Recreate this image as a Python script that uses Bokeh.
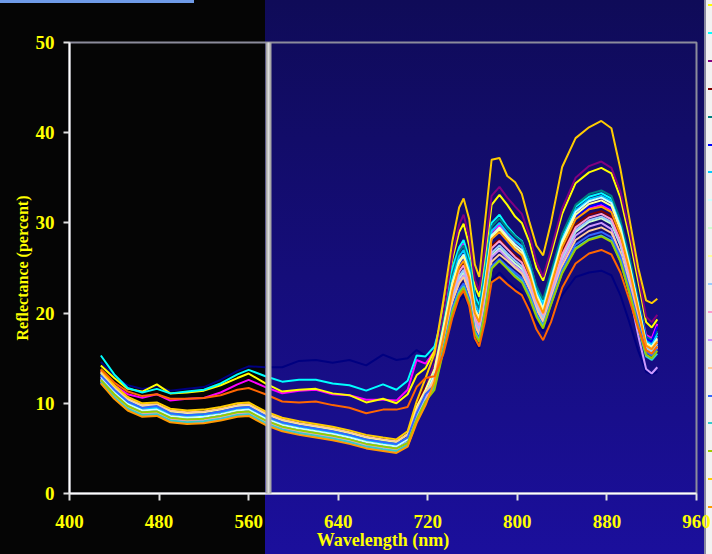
from bokeh.plotting import figure
from bokeh.models import FixedTicker, BoxAnnotation, Range1d
from bokeh.embed import file_html
from bokeh.resources import INLINE

# wavelengths (nm) shared by every spectrum
wavelengths = [428, 440, 452, 465, 478, 490, 505, 520, 535, 550, 560, 575, 590, 605, 620,
               635, 650, 665, 680, 692, 702, 710, 718,
               726, 734, 742, 748, 752, 757, 762, 766, 771, 777, 784, 791, 798, 804, 811,
               817, 823, 830, 840, 852, 864, 875, 884, 892, 900, 908, 915, 920, 925]

x_ticks = [400, 480, 560, 640, 720, 800, 880, 960]
y_ticks = [0, 10, 20, 30, 40, 50]

series_colors = ["#000080", "#FF00FF", "#FFFF00", "#00FFFF", "#800080", "#800000",
                 "#008080", "#0000FF", "#00CCFF", "#CCFFFF", "#CCFFCC", "#FFFF99",
                 "#99CCFF", "#FF99CC", "#CC99FF", "#FFCC99", "#3366FF", "#33CCCC",
                 "#99CC00", "#FFCC00", "#FF9900", "#FF6600"]

s01 = [14.6, 13.0, 12.0, 11.6, 11.9, 11.4, 11.6, 11.8, 12.6, 13.6, 14.1, 14.0, 14.0, 14.7, 14.8,
       14.5, 14.8, 14.2, 15.4, 14.8, 15.0, 15.9, 15.3,
       14.5, 16.0, 19.5, 21.3, 22.0, 20.6, 17.0, 16.0, 19.2, 23.6, 24.5, 23.6, 22.8, 22.3, 20.6,
       19.0, 18.0, 19.4, 22.0, 24.0, 24.5, 24.7, 24.2, 22.0, 19.0, 15.8, 13.5, 13.2, 13.5]
s02 = [13.6, 12.0, 11.0, 10.6, 11.0, 10.3, 10.5, 10.6, 11.2, 12.1, 12.6, 11.8, 11.1, 11.4, 11.5,
       11.0, 10.9, 10.4, 10.4, 10.3, 11.5, 14.8, 14.4,
       15.8, 19.5, 24.5, 26.9, 27.7, 25.6, 21.6, 20.5, 24.0, 29.0, 29.8, 28.8, 28.0, 27.4, 25.3,
       22.7, 21.0, 23.6, 27.6, 30.6, 31.6, 32.0, 31.4, 29.0, 25.5, 21.2, 17.6, 17.2, 18.8]
s03 = [14.2, 12.8, 11.6, 11.3, 12.1, 11.1, 11.2, 11.4, 12.0, 12.8, 13.3, 12.2, 11.3, 11.5, 11.6,
       11.1, 10.9, 10.1, 10.5, 10.0, 11.0, 13.1, 13.9,
       15.8, 20.5, 26.0, 29.0, 29.9, 27.5, 23.0, 21.8, 26.0, 32.0, 33.1, 32.0, 30.7, 30.0, 27.8,
       25.0, 23.6, 26.5, 31.0, 34.4, 35.6, 36.1, 35.5, 32.8, 28.5, 23.5, 19.0, 18.4, 19.3]
s04 = [15.3, 13.2, 11.7, 11.2, 11.6, 11.1, 11.3, 11.5, 12.2, 13.2, 13.7, 13.0, 12.4, 12.6, 12.6,
       12.2, 12.0, 11.4, 12.1, 11.5, 12.5, 15.3, 15.2,
       16.3, 20.0, 25.0, 27.3, 28.1, 26.0, 22.0, 20.8, 24.8, 30.0, 30.9, 29.6, 28.6, 28.0, 25.6,
       22.8, 21.2, 24.0, 28.5, 31.8, 32.9, 33.3, 32.7, 30.0, 26.0, 21.0, 17.2, 16.8, 17.8]
s05 = [13.2, 11.5, 10.2, 9.5, 9.6, 8.9, 8.7, 8.8, 9.1, 9.5, 9.6, 8.6, 7.9, 7.5, 7.2,
       6.9, 6.5, 6.0, 5.7, 5.5, 6.4, 9.4, 11.6,
       14.5, 20.0, 26.5, 29.8, 30.9, 28.4, 23.7, 22.5, 27.0, 33.0, 34.0, 32.8, 31.8, 31.0, 28.6,
       25.7, 24.0, 27.0, 31.6, 35.0, 36.3, 36.8, 36.1, 33.5, 29.2, 24.2, 19.6, 19.0, 19.8]
s06 = [13.0, 11.3, 10.0, 9.3, 9.4, 8.7, 8.5, 8.6, 8.9, 9.3, 9.4, 8.4, 7.7, 7.3, 7.0,
       6.7, 6.3, 5.8, 5.5, 5.3, 6.3, 10.0, 11.8,
       13.5, 17.8, 22.5, 24.8, 25.5, 23.6, 19.8, 18.8, 22.3, 27.4, 28.2, 27.2, 26.4, 25.8, 23.8,
       21.4, 20.0, 22.8, 26.8, 29.8, 30.9, 31.3, 30.7, 28.3, 24.8, 20.4, 16.7, 16.3, 17.3]
s07 = [13.3, 11.6, 10.3, 9.6, 9.7, 9.0, 8.8, 8.9, 9.2, 9.6, 9.7, 8.7, 8.0, 7.6, 7.3,
       7.0, 6.6, 6.1, 5.8, 5.6, 6.2, 9.0, 11.4,
       13.8, 19.0, 24.3, 26.8, 27.5, 25.5, 21.5, 20.5, 24.3, 29.6, 30.5, 29.4, 28.5, 27.9, 25.7,
       23.0, 21.5, 24.5, 28.8, 32.0, 33.2, 33.6, 33.0, 30.3, 26.3, 21.5, 17.4, 17.0, 18.0]
s08 = [12.8, 11.1, 9.8, 9.1, 9.2, 8.5, 8.3, 8.4, 8.7, 9.1, 9.2, 8.2, 7.5, 7.1, 6.8,
       6.5, 6.1, 5.6, 5.3, 5.1, 5.8, 8.5, 10.6,
       13.0, 17.8, 22.8, 25.3, 26.0, 24.1, 20.2, 19.2, 22.8, 28.2, 29.0, 27.9, 27.0, 26.4, 24.2,
       21.7, 20.2, 23.2, 27.4, 30.6, 31.8, 32.2, 31.6, 29.1, 25.3, 20.9, 17.2, 16.8, 18.5]
s09 = [13.1, 11.4, 10.1, 9.4, 9.5, 8.8, 8.6, 8.7, 9.0, 9.4, 9.5, 8.5, 7.8, 7.4, 7.1,
       6.8, 6.4, 5.9, 5.6, 5.4, 6.1, 8.9, 11.0,
       13.6, 18.6, 23.8, 26.3, 27.0, 25.0, 21.0, 20.0, 23.8, 29.1, 30.0, 28.9, 28.0, 27.4, 25.1,
       22.4, 20.8, 23.9, 28.2, 31.4, 32.6, 33.0, 32.4, 29.7, 25.6, 21.0, 16.9, 16.5, 17.5]
s10 = [12.9, 11.2, 9.9, 9.2, 9.3, 8.6, 8.4, 8.5, 8.8, 9.2, 9.3, 8.3, 7.6, 7.2, 6.9,
       6.6, 6.2, 5.7, 5.4, 5.2, 6.0, 8.8, 10.8,
       13.2, 18.2, 23.3, 25.8, 26.5, 24.5, 20.5, 19.5, 23.3, 28.6, 29.5, 28.5, 27.6, 27.0, 24.8,
       22.1, 20.5, 23.6, 28.0, 31.2, 32.4, 32.8, 32.2, 29.5, 25.4, 20.8, 16.7, 16.3, 17.2]
s11 = [12.6, 10.9, 9.6, 8.9, 9.0, 8.3, 8.1, 8.2, 8.5, 8.9, 9.0, 8.0, 7.3, 6.9, 6.6,
       6.3, 5.9, 5.4, 5.1, 4.9, 5.6, 8.3, 10.4,
       12.3, 16.8, 21.6, 23.8, 24.5, 22.7, 19.0, 18.0, 21.4, 26.4, 27.2, 26.3, 25.5, 24.9, 23.0,
       20.8, 19.3, 22.0, 26.0, 29.0, 30.1, 30.5, 29.9, 27.5, 23.8, 19.6, 16.0, 15.6, 16.4]
s12 = [13.4, 11.7, 10.4, 9.7, 9.8, 9.1, 8.9, 9.0, 9.3, 9.7, 9.8, 8.8, 8.1, 7.7, 7.4,
       7.1, 6.7, 6.2, 5.9, 5.7, 6.6, 9.6, 11.5,
       13.8, 18.4, 23.3, 25.6, 26.3, 24.3, 20.3, 19.3, 23.1, 28.4, 29.3, 28.3, 27.3, 26.7, 24.5,
       21.9, 20.3, 23.4, 27.7, 30.9, 32.1, 32.5, 31.9, 29.2, 25.2, 20.6, 16.6, 16.2, 17.0]
s13 = [12.7, 11.0, 9.7, 9.0, 9.1, 8.4, 8.2, 8.3, 8.6, 9.0, 9.1, 8.1, 7.4, 7.0, 6.7,
       6.4, 6.0, 5.5, 5.2, 5.0, 5.7, 8.4, 10.5,
       12.5, 17.1, 21.9, 24.1, 24.8, 23.0, 19.2, 18.2, 21.7, 26.7, 27.5, 26.6, 25.8, 25.2, 23.2,
       21.0, 19.5, 22.3, 26.2, 29.2, 30.3, 30.7, 30.1, 27.7, 24.0, 19.8, 16.2, 15.8, 16.6]
s14 = [12.5, 10.8, 9.5, 8.8, 8.9, 8.2, 8.0, 8.1, 8.4, 8.8, 8.9, 7.9, 7.2, 6.8, 6.5,
       6.2, 5.8, 5.3, 5.0, 4.8, 5.5, 8.2, 10.3,
       12.8, 17.4, 22.3, 24.6, 25.3, 23.4, 19.6, 18.6, 22.0, 27.2, 28.0, 27.1, 26.2, 25.6, 23.6,
       21.3, 19.8, 22.6, 26.5, 29.5, 30.6, 31.0, 30.4, 28.0, 24.3, 20.0, 16.4, 16.0, 16.8]
s15 = [12.3, 10.6, 9.3, 8.6, 8.7, 8.0, 7.8, 7.9, 8.2, 8.6, 8.7, 7.7, 7.0, 6.6, 6.3,
       6.0, 5.6, 5.1, 4.8, 4.6, 5.3, 8.0, 10.0,
       12.2, 16.7, 21.4, 23.5, 24.2, 22.4, 18.8, 17.8, 21.2, 26.2, 27.0, 26.1, 25.2, 24.6, 22.7,
       20.5, 19.0, 21.8, 25.6, 28.6, 29.6, 30.0, 29.3, 26.5, 22.3, 17.5, 13.8, 13.3, 14.0]
s16 = [13.5, 11.8, 10.5, 9.8, 9.9, 9.2, 9.0, 9.1, 9.4, 9.8, 9.9, 8.9, 8.2, 7.8, 7.5,
       7.2, 6.8, 6.3, 6.0, 5.8, 6.5, 9.2, 11.2,
       12.6, 16.8, 21.3, 23.3, 24.0, 22.2, 18.6, 17.6, 20.7, 25.7, 26.5, 25.8, 25.0, 24.4, 22.6,
       20.4, 19.0, 21.6, 25.2, 28.1, 29.1, 29.5, 28.9, 26.7, 23.2, 19.4, 15.9, 15.5, 16.2]
s17 = [13.1, 11.5, 10.2, 9.5, 9.7, 8.9, 8.7, 8.8, 9.1, 9.5, 9.6, 8.6, 7.9, 7.5, 7.2,
       6.9, 6.5, 6.0, 5.7, 5.5, 6.2, 8.9, 11.0,
       12.0, 16.2, 20.6, 22.6, 23.3, 21.6, 18.1, 17.2, 20.3, 25.2, 26.0, 25.2, 24.5, 23.9, 22.1,
       20.0, 18.6, 21.2, 24.8, 27.6, 28.6, 29.0, 28.4, 26.3, 22.8, 19.0, 15.7, 15.3, 16.0]
s18 = [12.4, 10.7, 9.4, 8.7, 8.8, 8.1, 7.9, 8.0, 8.3, 8.7, 8.8, 7.8, 7.1, 6.7, 6.4,
       6.1, 5.7, 5.2, 4.9, 4.7, 5.4, 8.1, 10.2,
       11.8, 16.0, 20.3, 22.3, 23.0, 21.3, 17.9, 17.0, 20.1, 25.0, 25.8, 25.0, 24.2, 23.6, 21.8,
       19.8, 18.5, 21.0, 24.5, 27.2, 28.2, 28.6, 28.0, 25.8, 22.3, 18.4, 15.2, 14.8, 15.5]
s19 = [12.6, 11.0, 9.7, 9.0, 9.1, 8.4, 8.2, 8.3, 8.6, 9.0, 9.1, 8.1, 7.4, 7.0, 6.7,
       6.4, 6.0, 5.5, 5.2, 5.0, 5.6, 8.2, 10.2,
       11.5, 15.8, 20.1, 22.1, 22.8, 21.1, 17.7, 16.8, 20.0, 24.9, 25.8, 24.9, 24.0, 23.4, 21.6,
       19.6, 18.3, 20.9, 24.4, 27.1, 28.1, 28.5, 27.9, 25.7, 22.3, 18.5, 15.4, 15.0, 15.8]
s20 = [13.7, 12.0, 10.7, 10.0, 10.1, 9.4, 9.2, 9.3, 9.6, 10.0, 10.1, 9.1, 8.4, 8.0, 7.7,
       7.4, 7.0, 6.5, 6.2, 6.0, 6.9, 10.2, 12.8,
       15.5, 21.5, 28.0, 31.7, 32.7, 30.4, 25.4, 24.0, 30.0, 37.0, 37.2, 35.2, 34.5, 33.2, 30.0,
       27.5, 26.4, 30.0, 36.2, 39.4, 40.6, 41.3, 40.5, 36.0, 30.5, 25.0, 21.4, 21.1, 21.6]
s21 = [12.2, 10.5, 9.2, 8.5, 8.6, 7.9, 7.7, 7.8, 8.1, 8.5, 8.6, 7.6, 6.9, 6.5, 6.2,
       5.9, 5.5, 5.0, 4.7, 4.5, 5.2, 7.8, 9.8,
       12.4, 17.3, 22.5, 25.1, 25.8, 23.9, 20.0, 19.0, 22.7, 28.2, 29.0, 28.0, 27.0, 26.4, 24.2,
       21.6, 20.0, 23.0, 27.3, 30.4, 31.5, 31.8, 31.2, 28.7, 24.9, 20.4, 16.4, 16.0, 16.8]
s22 = [13.8, 12.3, 11.3, 10.8, 11.0, 10.5, 10.5, 10.6, 10.9, 11.5, 11.7, 11.0, 10.2, 10.1, 10.2,
       9.8, 9.5, 8.9, 9.3, 9.3, 9.6, 11.8, 12.8,
       13.0, 15.5, 19.5, 21.8, 22.5, 20.8, 17.2, 16.3, 19.0, 23.4, 24.0, 23.2, 22.5, 22.0, 20.2,
       18.2, 17.0, 19.0, 22.8, 25.5, 26.6, 27.0, 26.5, 24.5, 21.5, 18.3, 15.9, 15.5, 16.3]

series_values = [s01, s02, s03, s04, s05, s06, s07, s08, s09, s10, s11,
                 s12, s13, s14, s15, s16, s17, s18, s19, s20, s21, s22]

YELLOW = "#FFFF00"
FONT = "Liberation Serif"

p = figure(width=712, height=554, output_backend="svg", toolbar_location=None,
           x_range=Range1d(400, 960), y_range=Range1d(0, 50),
           min_border_left=69, min_border_right=16, min_border_top=42, min_border_bottom=61)
p.border_fill_color = None
p.background_fill_color = None
p.outline_line_color = "#8c8c9c"
p.outline_line_width = 2
p.grid.visible = False

# page decoration: black pane on the left, blue gradient pane, cut-off legend strip on the right
legend_marks = []
for k, col in enumerate(series_colors[2:21]):
    top = 4 + round(k * 27.9)
    legend_marks.append(f"linear-gradient({col}, {col}) 708px {top}px / 4px 2px no-repeat")
p.styles = {
    "background": ", ".join(legend_marks + [
        "linear-gradient(to right, rgba(0,0,0,0) 704px, #8a8aa0 704px, #8a8aa0 706px, #f2f2f2 706px)",
        "linear-gradient(#6f9be8, #6f9be8) 0 0 / 194px 3px no-repeat",
        "linear-gradient(to right, #050505 265px, rgba(0,0,0,0) 265px)",
        "linear-gradient(to bottom, #0f0b58, #1b0f9c)"])
}

for vals, col in zip(series_values, series_colors):
    p.line(wavelengths, vals, line_color=col, line_width=2)

for ax in (p.xaxis[0], p.yaxis[0]):
    ax.axis_line_color = "white"
    ax.axis_line_width = 2
    ax.major_tick_line_color = "#e0e0e0"
    ax.major_tick_line_width = 2
    ax.minor_tick_line_color = None
    ax.major_tick_in = 0
    ax.major_label_text_color = YELLOW
    ax.major_label_text_font = FONT
    ax.major_label_text_font_style = "bold"
    ax.major_label_text_font_size = "19px"
    ax.axis_label_text_color = YELLOW
    ax.axis_label_text_font = FONT
    ax.axis_label_text_font_style = "bold"

p.xaxis.ticker = FixedTicker(ticks=x_ticks)
p.yaxis.ticker = FixedTicker(ticks=y_ticks)
p.xaxis.major_tick_out = 7
p.yaxis.major_tick_out = 6
p.xaxis.major_label_standoff = 14
p.yaxis.major_label_standoff = 9
p.xaxis.axis_label = "Wavelength (nm)"
p.xaxis.axis_label_text_font_size = "18px"
p.xaxis.axis_label_standoff = -1
p.yaxis.axis_label = "Reflectance (percent)"
p.yaxis.axis_label_text_font_size = "16px"
p.yaxis.axis_label_standoff = 2

# window splitter bar drawn over the chart
p.add_layout(BoxAnnotation(left=265, right=271, top=0, bottom=554,
                           left_units="canvas", right_units="canvas",
                           top_units="canvas", bottom_units="canvas",
                           fill_color="#a8a8a8", fill_alpha=1, line_color=None, level="overlay"))
p.add_layout(BoxAnnotation(left=267, right=269, top=0, bottom=554,
                           left_units="canvas", right_units="canvas",
                           top_units="canvas", bottom_units="canvas",
                           fill_color="#dcdcdc", fill_alpha=1, line_color=None, level="overlay"))

open("out.html", "w").write(file_html(p, INLINE))
